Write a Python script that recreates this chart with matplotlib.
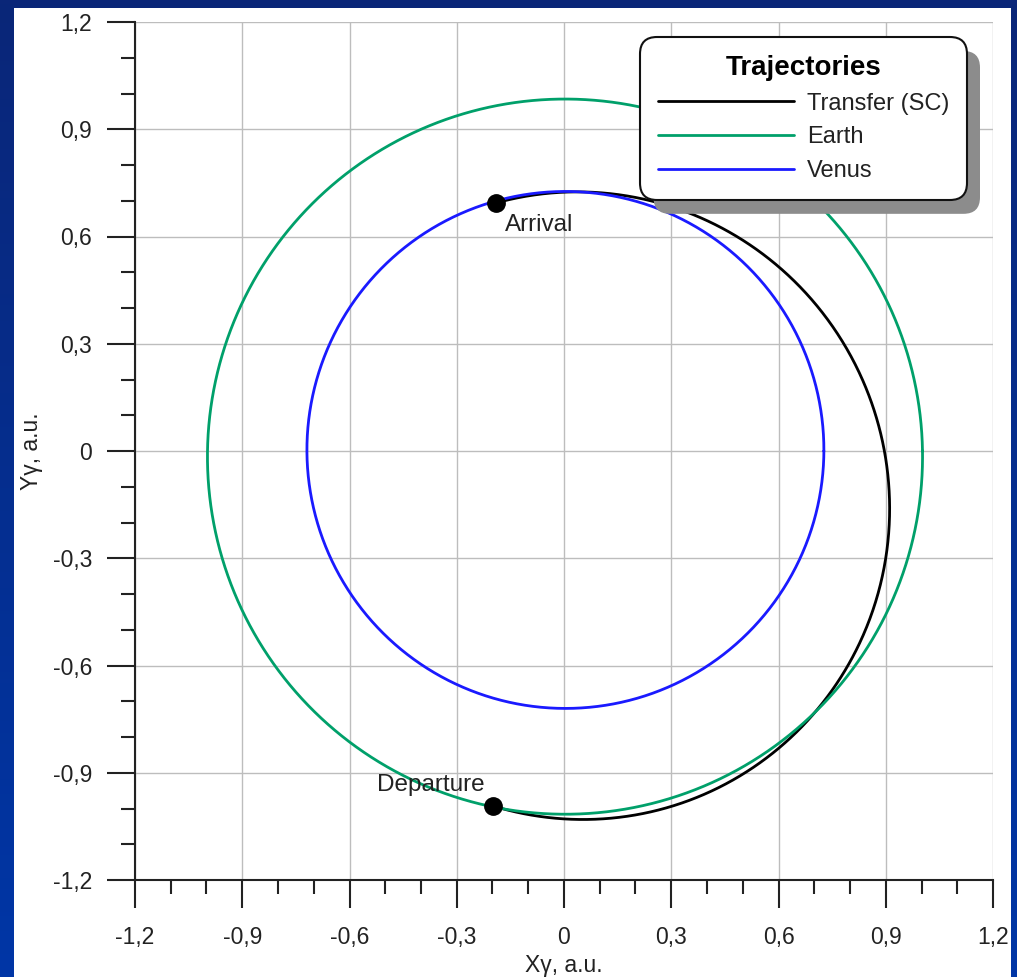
import numpy as np
import matplotlib
matplotlib.use("Agg")
import matplotlib.pyplot as plt
from matplotlib.patches import Rectangle, FancyBboxPatch
from matplotlib.ticker import MultipleLocator, FuncFormatter
import matplotlib.transforms as mtransforms

plt.rcParams['font.family'] = ['Liberation Sans', 'DejaVu Sans']

# ---- data (orbital elements, a.u. / degrees) ----
orbit_names = ["Transfer (SC)", "Earth", "Venus"]
orbit_colors = ["#000000", "#00a06a", "#1a1aff"]
semi_latus = [0.850, 1.0000, 0.7230]
eccentricity = [0.1815, 0.0160, 0.0068]
periapsis_deg = [106.5, 100.0, 217.0]
arc_start_deg = [-101.3, 0.0, 0.0]
arc_end_deg = [105.3, 360.0, 360.0]
event_labels = ["Departure", "Arrival"]
event_angle_deg = [-101.3, 105.3]
axis_ticks = [-1.2, -0.9, -0.6, -0.3, 0.0, 0.3, 0.6, 0.9, 1.2]


def conic(p, e, w, t_deg):
    t = np.radians(t_deg)
    r = p / (1 + e * np.cos(t - np.radians(w)))
    return r * np.cos(t), r * np.sin(t)


W, H = 1017, 977
fig = plt.figure(figsize=(W / 100, H / 100), dpi=100)

# blue gradient background
bg = fig.add_axes([0, 0, 1, 1], zorder=-10)
grad = np.linspace(0, 1, 256).reshape(-1, 1)
top = np.array([0x0a, 0x26, 0x78]) / 255
bot = np.array([0x00, 0x36, 0xa6]) / 255
img = top[None, None, :] * (1 - grad[:, :, None]) + bot[None, None, :] * grad[:, :, None]
bg.imshow(img, aspect='auto', extent=[0, 1, 0, 1])
bg.axis('off')
fig.patches.append(Rectangle((14 / W, 0), (1011 - 14) / W, (H - 8) / H,
                             transform=fig.transFigure, facecolor='white',
                             edgecolor='none', zorder=-5))

ax = fig.add_axes([135 / W, 97 / H, 858 / W, 858 / H])
ax.set_facecolor('white')

lines = []
for name, col, p, e, w, a0, a1 in zip(orbit_names, orbit_colors, semi_latus,
                                        eccentricity, periapsis_deg,
                                        arc_start_deg, arc_end_deg):
    th = np.linspace(a0, a1, 1000)
    x, y = conic(p, e, w, th)
    ln, = ax.plot(x, y, color=col, lw=2.0, label=name, zorder=3,
                  solid_capstyle='round', solid_joinstyle='round')
    lines.append(ln)

# departure / arrival points on the transfer arc
ex, ey = conic(semi_latus[0], eccentricity[0], periapsis_deg[0], np.array(event_angle_deg))
ax.plot(ex, ey, 'o', color='black', ms=12.5, zorder=6)
ax.annotate(event_labels[0], (ex[0], ey[0]), xytext=(-6, 15), textcoords='offset points',
            ha='right', va='center', fontsize=17.5, color='#222222', zorder=7)
ax.annotate(event_labels[1], (ex[1], ey[1]), xytext=(6, -16), textcoords='offset points',
            ha='left', va='center', fontsize=17.5, color='#222222', zorder=7)

ax.set_xlim(-1.2, 1.2)
ax.set_ylim(-1.2, 1.2)
ax.set_xticks(axis_ticks)
ax.set_yticks(axis_ticks)
ax.xaxis.set_minor_locator(MultipleLocator(0.1))
ax.yaxis.set_minor_locator(MultipleLocator(0.1))
fmt = FuncFormatter(lambda v, pos: '0' if abs(v) < 1e-9 else ('%.1f' % v).replace('.', ','))
ax.xaxis.set_major_formatter(fmt)
ax.yaxis.set_major_formatter(fmt)
ax.grid(True, which='major', color='#bdbdbd', lw=1.0, zorder=0)
ax.set_axisbelow(True)
for s in ['top', 'right']:
    ax.spines[s].set_visible(False)
for s in ['left', 'bottom']:
    ax.spines[s].set_linewidth(1.5)
    ax.spines[s].set_color('#222222')
ax.tick_params(which='major', direction='out', length=20, width=1.5, color='#222222',
               labelsize=16.5, labelcolor='#222222')
ax.tick_params(axis='x', which='major', pad=13)
ax.tick_params(axis='y', which='major', pad=11)
ax.tick_params(which='minor', direction='out', length=10, width=1.5, color='#222222')

ax.set_xlabel('Xγ, a.u.', fontsize=16.5, color='#222222', va='top')
ax.xaxis.set_label_coords(0.5, -0.086)
ax.set_ylabel('Yγ, a.u.', fontsize=16.5, color='#222222')
ax.yaxis.set_label_coords(-0.107, 0.5)

leg = ax.legend(handles=lines, title='Trajectories', loc='upper right',
                bbox_to_anchor=((967 - 135) / 858, (880 - 37) / 858), borderaxespad=0,
                fontsize=17, title_fontproperties={'size': 20, 'weight': 'bold'},
                handlelength=5.75, handletextpad=0.55, labelspacing=0.5,
                borderpad=0.75, frameon=True, fancybox=True, framealpha=1)
for t in leg.get_texts():
    t.set_color('#222222')
fr = leg.get_frame()
fr.set_edgecolor('#111111')
fr.set_linewidth(1.5)
fr.set_facecolor('white')
fr.set_boxstyle('round,pad=0,rounding_size=0.7')
leg.set_zorder(10)

fig.canvas.draw()
bb = fr.get_bbox()
off = mtransforms.ScaledTranslation(13 / 100, -14 / 100, fig.dpi_scale_trans)
shadow = FancyBboxPatch((bb.x0, bb.y0), bb.width, bb.height,
                        boxstyle='round,pad=0,rounding_size=%f' % (0.7 * fr.get_mutation_scale()),
                        transform=mtransforms.IdentityTransform() + off,
                        facecolor='#8c8c8c', edgecolor='none', zorder=9)
ax.add_artist(shadow)

fig.savefig('out.png', dpi=100)
